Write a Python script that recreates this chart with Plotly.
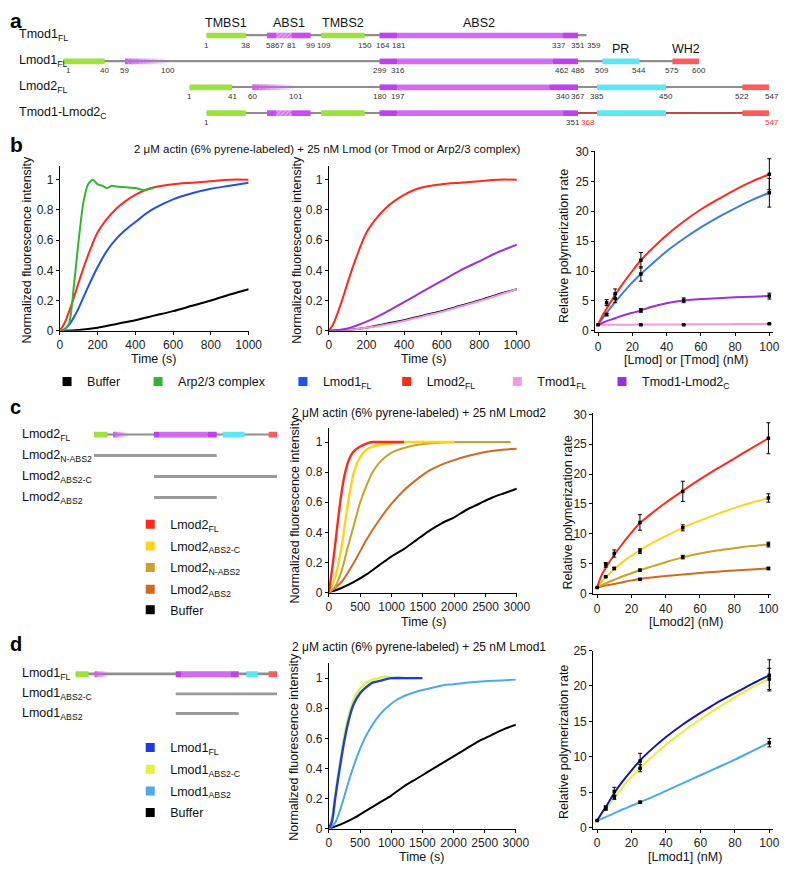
import plotly.graph_objects as go

W, H = 800, 878
FONT = "Liberation Sans, Arial, Helvetica, sans-serif"


def px(v):
    return v / W


def py(v):
    return 1 - v / H


# ======================= DATA =======================
# ---- panel a : domain maps (residue numbers) ----
TMOD1_LEN = 359
LMOD1_LEN = 600
LMOD2_LEN = 547
CHIM_TMOD1_END = 351
CHIM_LMOD2_START = 368
TMOD1_SEGS = [("tmbs", 1, 38), ("abs", 58, 67), ("hatch", 67, 81), ("abs", 81, 99),
              ("tmbs", 109, 150), ("abs2d", 164, 181), ("abs2", 181, 337), ("abs2d", 337, 351)]
LMOD1_SEGS = [("tmbs", 1, 40), ("fade", 59, 100), ("abs2d", 299, 316), ("abs2", 316, 462),
              ("abs2d", 462, 486), ("pr", 509, 544), ("wh2", 575, 600)]
LMOD2_SEGS = [("tmbs", 1, 41), ("fade", 60, 101), ("abs2d", 180, 197), ("abs2", 197, 340),
              ("abs2d", 340, 367), ("pr", 385, 450), ("wh2", 522, 547)]
CHIM_LMOD2_SEGS = [("pr", 385, 450), ("wh2", 522, 547)]
TMOD1_LABELS = [1, 38, 58, 67, 81, 99, 109, 150, 164, 181, 337, 351, 359]
LMOD1_LABELS = [1, 40, 59, 100, 299, 316, 462, 486, 509, 544, 575, 600]
LMOD2_LABELS = [1, 41, 60, 101, 180, 197, 340, 367, 385, 450, 522, 547]
CHIM_TMOD1_LABELS = [1, 351]
CHIM_LMOD2_LABELS = [368, 547]
DOMAIN_NAMES = [("TMBS1", "Tmod1", 1, 38), ("ABS1", "Tmod1", 58, 99), ("TMBS2", "Tmod1", 109, 150),
                ("ABS2", "Tmod1", 164, 351), ("PR", "Lmod1", 509, 544), ("WH2", "Lmod1", 575, 600)]
A_ROW_NAMES = ["Tmod1<sub>FL</sub>", "Lmod1<sub>FL</sub>", "Lmod2<sub>FL</sub>", "Tmod1-Lmod2<sub>C</sub>"]

# ---- panel c / d construct maps ----
C_ROW_NAMES = ["Lmod2<sub>FL</sub>", "Lmod2<sub>N-ABS2</sub>", "Lmod2<sub>ABS2-C</sub>", "Lmod2<sub>ABS2</sub>"]
C_CONSTRUCTS = [(1, 367), (180, 547), (180, 367)]
D_ROW_NAMES = ["Lmod1<sub>FL</sub>", "Lmod1<sub>ABS2-C</sub>", "Lmod1<sub>ABS2</sub>"]
D_CONSTRUCTS = [(299, 600), (299, 486)]

# ---- panel b : time courses (s, normalized intensity) ----
T_B_BUF = [0, 100, 200, 300, 400, 500, 600, 700, 800, 900, 1000]
B_BUFFER = [0, 0.005, 0.02, 0.045, 0.07, 0.10, 0.13, 0.165, 0.20, 0.24, 0.275]
B_TMOD1 = [0, 0.005, 0.02, 0.04, 0.065, 0.095, 0.125, 0.16, 0.195, 0.235, 0.275]
B_CHIM = [0, 0.015, 0.06, 0.12, 0.19, 0.26, 0.33, 0.40, 0.46, 0.52, 0.57]
T_B_ARP = [0, 25, 50, 75, 100, 125, 150, 175, 200, 225, 250, 275, 300, 350, 400, 450, 475, 500]
B_ARP = [0, 0.01, 0.05, 0.3, 0.6, 0.85, 0.97, 1.0, 0.97, 0.96, 0.945, 0.96, 0.955, 0.95, 0.945, 0.93, 0.94, 0.945]
T_B = [0, 25, 50, 75, 100, 150, 200, 250, 300, 350, 400, 450, 500, 600, 700, 800, 900, 1000]
B_LMOD2 = [0, 0.05, 0.13, 0.22, 0.32, 0.5, 0.65, 0.74, 0.81, 0.86, 0.9, 0.93, 0.95, 0.97, 0.98, 0.99, 1.0, 1.0]
B_LMOD1 = [0, 0.01, 0.04, 0.09, 0.15, 0.29, 0.42, 0.53, 0.61, 0.67, 0.72, 0.77, 0.81, 0.87, 0.91, 0.94, 0.96, 0.98]

# ---- panel b : rates vs concentration (nM) ----
FIT_X = [0, 2.5, 5, 10, 15, 20, 25, 30, 40, 50, 60, 70, 80, 90, 100]
B_FIT_LMOD2 = [1, 2.5, 3.7, 6.0, 8.1, 10.0, 11.8, 13.3, 16.0, 18.3, 20.3, 22.0, 23.6, 25.0, 26.2]
B_FIT_LMOD1 = [1, 2.0, 3.0, 4.8, 6.5, 8.1, 9.5, 10.8, 13.3, 15.4, 17.3, 19.0, 20.5, 21.9, 23.1]
B_FIT_CHIM = [1, 1.3, 1.6, 2.1, 2.6, 3.0, 3.4, 3.9, 4.6, 5.05, 5.3, 5.45, 5.6, 5.7, 5.8]
B_FIT_TMOD1 = [1, 1.0, 1.0, 1.01, 1.01, 1.02, 1.03, 1.03, 1.05, 1.06, 1.08, 1.09, 1.11, 1.13, 1.15]
B_PTS_LMOD2 = ([0, 5, 10, 25, 100], [1, 4.7, 6.2, 11.8, 26.2], [0, 0.5, 0.8, 1.3, 2.6])
B_PTS_LMOD1 = ([5, 10, 25, 100], [2.7, 5.4, 9.5, 23.1], [0.2, 0.7, 1.2, 2.4])
B_PTS_CHIM = ([25, 50, 100], [3.4, 5.1, 5.8], [0.3, 0.4, 0.5])
B_PTS_TMOD1 = ([25, 50, 100], [1.0, 1.0, 1.15], [0.05, 0.05, 0.05])

# ---- panel c : time courses ----
T_C_RED = [0, 50, 100, 150, 200, 250, 300, 350, 400, 500, 600, 700, 800, 1000, 1200]
C_FL = [0, 0.15, 0.32, 0.5, 0.66, 0.78, 0.86, 0.91, 0.94, 0.97, 0.99, 1.0, 1.0, 1.0, 1.0]
T_C_YEL = [0, 100, 200, 300, 400, 500, 600, 700, 800, 1000, 1200, 1500, 2000]
C_ABS2C = [0, 0.1, 0.3, 0.58, 0.8, 0.9, 0.95, 0.97, 0.98, 0.99, 1.0, 1.0, 1.0]
T_C_OLV = [0, 100, 200, 300, 400, 500, 600, 700, 800, 900, 1000, 1200, 1400, 1600, 2000, 2500, 2900]
C_NABS2 = [0, 0.04, 0.14, 0.3, 0.45, 0.6, 0.71, 0.8, 0.86, 0.9, 0.93, 0.96, 0.98, 0.99, 1.0, 1.0, 1.0]
T_LONG = [0, 200, 400, 600, 800, 1000, 1200, 1400, 1600, 1800, 2000, 2200, 2400, 2600, 2800, 3000]
C_ABS2 = [0, 0.07, 0.2, 0.35, 0.48, 0.59, 0.68, 0.75, 0.81, 0.85, 0.88, 0.905, 0.925, 0.94, 0.95, 0.955]
C_BUFFER = [0, 0.03, 0.07, 0.12, 0.18, 0.24, 0.29, 0.35, 0.41, 0.46, 0.5, 0.55, 0.59, 0.63, 0.66, 0.69]

# ---- panel c : rates ----
C_FIT_FL = [1, 3.0, 4.3, 6.5, 8.4, 10.2, 11.8, 13.0, 15.2, 17.2, 19.1, 20.9, 22.6, 24.3, 26.0]
C_FIT_ABS2C = [1, 1.9, 2.7, 4.1, 5.3, 6.3, 7.2, 8.1, 9.6, 11.0, 12.2, 13.3, 14.3, 15.2, 16.0]
C_FIT_NABS2 = [1, 1.35, 1.7, 2.3, 2.9, 3.4, 3.9, 4.35, 5.25, 6.05, 6.7, 7.2, 7.6, 7.95, 8.2]
C_FIT_ABS2 = [1, 1.17, 1.33, 1.6, 1.9, 2.2, 2.45, 2.65, 2.95, 3.2, 3.45, 3.65, 3.85, 4.03, 4.2]
C_PTS_FL = ([0, 5, 10, 25, 50, 100], [1, 4.8, 6.7, 11.9, 17.1, 26.0], [0, 0.4, 0.6, 1.3, 1.7, 2.6])
C_PTS_ABS2C = ([5, 10, 25, 50, 100], [2.8, 4.2, 7.1, 11.0, 16.0], [0.1, 0.2, 0.4, 0.5, 0.7])
C_PTS_NABS2 = ([25, 50, 100], [3.9, 6.1, 8.2], [0.2, 0.3, 0.4])
C_PTS_ABS2 = ([25, 100], [2.4, 4.2], [0.1, 0.2])

# ---- panel d : time courses ----
T_D_FL = [0, 50, 100, 150, 200, 250, 300, 350, 400, 500, 600, 700, 800, 1000, 1200, 1500]
D_FL = [0, 0.05, 0.2, 0.34, 0.47, 0.59, 0.69, 0.77, 0.83, 0.9, 0.94, 0.97, 0.98, 1.0, 1.0, 1.0]
T_D_C = [0, 50, 100, 150, 200, 250, 300, 400, 500, 600, 700, 800, 900, 1000, 1200, 1400]
D_ABS2C = [0, 0.07, 0.22, 0.36, 0.5, 0.62, 0.72, 0.86, 0.93, 0.97, 0.99, 1.0, 1.01, 1.0, 1.0, 1.0]
T_D_ABS2 = [0, 100, 200, 300, 400, 500, 600, 800, 1000, 1200, 1400, 1600, 1800, 2000, 2200, 2500, 3000]
D_ABS2 = [0, 0.04, 0.15, 0.29, 0.42, 0.53, 0.62, 0.75, 0.83, 0.88, 0.91, 0.93, 0.95, 0.96, 0.97, 0.98, 0.99]
D_BUFFER = [0, 0.03, 0.07, 0.12, 0.17, 0.22, 0.28, 0.33, 0.38, 0.43, 0.48, 0.53, 0.58, 0.62, 0.66, 0.69]

# ---- panel d : rates ----
D_FIT_FL = [1, 2.0, 2.9, 4.9, 6.6, 8.1, 9.5, 10.7, 12.8, 14.6, 16.2, 17.7, 19.0, 20.3, 21.5]
D_FIT_ABS2C = [1, 1.8, 2.6, 4.2, 5.8, 7.2, 8.4, 9.6, 11.7, 13.6, 15.3, 16.9, 18.4, 19.8, 21.0]
D_FIT_ABS2 = [1, 1.25, 1.5, 2.05, 2.6, 3.1, 3.6, 4.1, 5.2, 6.3, 7.4, 8.5, 9.6, 10.8, 12.0]
D_PTS_FL = ([0, 5, 10, 25, 100], [1, 2.8, 5.1, 9.4, 21.5], [0, 0.3, 0.6, 1.1, 2.2])
D_PTS_ABS2C = ([5, 10, 25, 100], [2.7, 4.3, 8.4, 21.0], [0.2, 0.3, 0.5, 1.5])
D_PTS_ABS2 = ([25, 100], [3.6, 12.0], [0.15, 0.6])

# ---- tick labels ----
TIME_TICKS_B = [0, 200, 400, 600, 800, 1000]
TIME_TICKS_CD = [0, 500, 1000, 1500, 2000, 2500, 3000]
FLUO_TICKS = [0, 0.2, 0.4, 0.6, 0.8, 1]
FLUO_TICKTEXT = ["0", "0.2", "0.4", "0.6", "0.8", "1"]
CONC_TICKS = [0, 20, 40, 60, 80, 100]
RATE_TICKS_30 = [0, 5, 10, 15, 20, 25, 30]
RATE_TICKS_25 = [0, 5, 10, 15, 20, 25]

# ======================= STYLE =======================
C_BUF = "#000000"
C_ARP = "#35B335"
C_L1 = "#2150E8"
C_L1_FIT = "#3A7EE0"
C_L2 = "#FF2A1A"
C_T1 = "#F29ADF"
C_CH = "#9B30E0"
C_YEL = "#FFD31A"
C_OLV = "#C9A227"
C_ORG = "#D2691E"
C_D_FL = "#1A3CE6"
C_D_FL_FIT = "#1515B4"
C_D_YG = "#E2F240"
C_D_LB = "#4CA8F0"

DOM_COLORS = {"tmbs": "#9EE23E", "abs": "#C84CF0", "abs2d": "#C040EE", "abs2": "#D36AF3",
              "pr": "#5DE7F3", "wh2": "#FF5B5B", "hatch": "#D470F3"}
BACKBONE = "#8E8E8E"
CHIM_BACKBONE = "#C24848"
CONSTRUCT = "#9A9A9A"

ALIGN = {"Tmod1": 0, "Lmod1": -135, "Lmod2": -16}
TMOD1_NUDGE = {58: 3, 67: 3, 109: 3, 164: 3, 181: 1, 337: -4, 359: 8}
LMOD1_NUDGE = {1: 5, 462: 10}
LMOD2_NUDGE = {340: 14, 547: 3}
CHIM_NUDGE_T = {351: -5}
CHIM_NUDGE_L = {368: 9, 547: 3}

fig = go.Figure()
ann = []
layout = {}


def text(x, y, s, size=12, xref="paper", yref="paper", xanchor="center", yanchor="middle",
         color="#111", angle=0, xshift=0, yshift=0):
    ann.append(dict(x=x, y=y, xref=xref, yref=yref, text=s, showarrow=False, xanchor=xanchor,
                    yanchor=yanchor, textangle=angle, xshift=xshift, yshift=yshift,
                    font=dict(size=size, color=color, family=FONT)))


def hbar(xa, ya, s, e, row, color, width, pattern=None):
    m = dict(color=color, line=dict(width=0))
    if pattern:
        m["pattern"] = pattern
    fig.add_trace(go.Bar(x=[e - s], base=[s], y=[row], orientation="h", width=width, marker=m,
                         xaxis=xa, yaxis=ya, showlegend=False, hoverinfo="skip"))


def draw_segs(xa, ya, row, segs, off, bw):
    for kind, s, e in segs:
        s0, e0 = s + off, e + off
        if kind == "fade":
            n = 12
            for k in range(n):
                a = 1 - 0.95 * k / (n - 1)
                hbar(xa, ya, s0 + (e0 - s0) * k / n, s0 + (e0 - s0) * (k + 1) / n, row,
                     f"rgba(208,95,240,{a:.2f})", bw)
        elif kind == "hatch":
            hbar(xa, ya, s0, e0, row, DOM_COLORS["hatch"], bw,
                 pattern=dict(shape="/", fgcolor="#F6DDFB", size=3, solidity=0.45))
        else:
            hbar(xa, ya, s0, e0, row, DOM_COLORS[kind], bw)


# ---------------- panel a ----------------
BW_A = 0.22
BB_A = 0.06
rows_a = [("Tmod1", TMOD1_LEN), ("Lmod1", LMOD1_LEN), ("Lmod2", LMOD2_LEN)]
for r, (nm, ln) in enumerate(rows_a):
    off = ALIGN[nm]
    hbar("x", "y", 1 + off, ln + off, r, BACKBONE, BB_A)
hbar("x", "y", 1, CHIM_TMOD1_END, 3, BACKBONE, BB_A)
hbar("x", "y", CHIM_TMOD1_END, LMOD2_LEN + ALIGN["Lmod2"], 3, CHIM_BACKBONE, BB_A)
draw_segs("x", "y", 0, TMOD1_SEGS, ALIGN["Tmod1"], BW_A)
draw_segs("x", "y", 1, LMOD1_SEGS, ALIGN["Lmod1"], BW_A)
draw_segs("x", "y", 2, LMOD2_SEGS, ALIGN["Lmod2"], BW_A)
draw_segs("x", "y", 3, TMOD1_SEGS, ALIGN["Tmod1"], BW_A)
draw_segs("x", "y", 3, CHIM_LMOD2_SEGS, ALIGN["Lmod2"], BW_A)

LBL_DY = 0.37
for labels, nm, row, nudge, col in [(TMOD1_LABELS, "Tmod1", 0, TMOD1_NUDGE, "#333"),
                                    (LMOD1_LABELS, "Lmod1", 1, LMOD1_NUDGE, "#333"),
                                    (LMOD2_LABELS, "Lmod2", 2, LMOD2_NUDGE, "#333"),
                                    (CHIM_TMOD1_LABELS, "Tmod1", 3, CHIM_NUDGE_T, "#333"),
                                    (CHIM_LMOD2_LABELS, "Lmod2", 3, CHIM_NUDGE_L, "#FF3333")]:
    for v in labels:
        text(v + ALIGN[nm], row + LBL_DY, str(v), size=8, xref="x", yref="y", color=col,
             xshift=nudge.get(v, 0))
for name, nm, s, e in DOMAIN_NAMES:
    row = 0 if nm == "Tmod1" else 1
    text((s + e) / 2 + ALIGN[nm], row - 0.48, name, size=12.5, xref="x", yref="y", color="#111")
for r, nm in enumerate(A_ROW_NAMES):
    text(px(14), r, nm, size=12.5, yref="y", xanchor="left")

# ---------------- panel c / d maps ----------------
BW_C = 0.28
hbar("x5", "y5", 1, LMOD2_LEN, 0, BACKBONE, 0.1)
draw_segs("x5", "y5", 0, LMOD2_SEGS, 0, BW_C)
for i, (s, e) in enumerate(C_CONSTRUCTS):
    hbar("x5", "y5", s, e, i + 1, CONSTRUCT, 0.14)
for r, nm in enumerate(C_ROW_NAMES):
    text(px(17), r, nm, size=12.5, yref="y5", xanchor="left")

BW_D = 0.3
hbar("x8", "y8", 1, LMOD1_LEN, 0, BACKBONE, 0.1)
draw_segs("x8", "y8", 0, LMOD1_SEGS, 0, BW_D)
for i, (s, e) in enumerate(D_CONSTRUCTS):
    hbar("x8", "y8", s, e, i + 1, CONSTRUCT, 0.15)
for r, nm in enumerate(D_ROW_NAMES):
    text(px(17), r, nm, size=12.5, yref="y8", xanchor="left")


# ---------------- curves ----------------
def tc(xa, ya, t, v, color, width=2.0, smooth=0.8):
    fig.add_trace(go.Scatter(x=t, y=v, mode="lines",
                             line=dict(color=color, width=width, shape="spline", smoothing=smooth),
                             xaxis=xa, yaxis=ya, showlegend=False, hoverinfo="skip"))


def pts(xa, ya, data):
    x, y, err = data
    fig.add_trace(go.Scatter(x=x, y=y, mode="markers",
                             marker=dict(symbol="square", size=3.5, color="black"),
                             error_y=dict(type="data", array=err, color="black", thickness=1, width=2),
                             xaxis=xa, yaxis=ya, showlegend=False, hoverinfo="skip"))


# b1
tc("x2", "y2", T_B_BUF, B_BUFFER, C_BUF)
tc("x2", "y2", T_B, B_LMOD1, C_L1)
tc("x2", "y2", T_B, B_LMOD2, C_L2)
tc("x2", "y2", T_B_ARP, B_ARP, C_ARP, smooth=0.6)
# b2
tc("x3", "y3", T_B_BUF, B_BUFFER, C_BUF)
tc("x3", "y3", T_B_BUF, B_TMOD1, C_T1)
tc("x3", "y3", T_B_BUF, B_CHIM, C_CH)
tc("x3", "y3", T_B, B_LMOD2, C_L2)
# b3
tc("x4", "y4", FIT_X, B_FIT_TMOD1, C_T1)
tc("x4", "y4", FIT_X, B_FIT_CHIM, C_CH)
tc("x4", "y4", FIT_X, B_FIT_LMOD1, C_L1_FIT)
tc("x4", "y4", FIT_X, B_FIT_LMOD2, C_L2)
for d in [B_PTS_TMOD1, B_PTS_CHIM, B_PTS_LMOD1, B_PTS_LMOD2]:
    pts("x4", "y4", d)
# c2
tc("x6", "y6", T_LONG, C_BUFFER, C_BUF)
tc("x6", "y6", T_LONG, C_ABS2, C_ORG)
tc("x6", "y6", T_C_OLV, C_NABS2, C_OLV)
tc("x6", "y6", T_C_YEL, C_ABS2C, C_YEL, width=2.4)
tc("x6", "y6", T_C_RED, C_FL, C_L2, width=2.4)
# c3
tc("x7", "y7", FIT_X, C_FIT_ABS2, C_ORG)
tc("x7", "y7", FIT_X, C_FIT_NABS2, C_OLV)
tc("x7", "y7", FIT_X, C_FIT_ABS2C, C_YEL)
tc("x7", "y7", FIT_X, C_FIT_FL, C_L2)
for d in [C_PTS_ABS2, C_PTS_NABS2, C_PTS_ABS2C, C_PTS_FL]:
    pts("x7", "y7", d)
# d2
tc("x9", "y9", T_LONG, D_BUFFER, C_BUF)
tc("x9", "y9", T_D_ABS2, D_ABS2, C_D_LB)
tc("x9", "y9", T_D_C, D_ABS2C, C_D_YG, width=2.6)
tc("x9", "y9", T_D_FL, D_FL, C_D_FL, width=2.4)
# d3
tc("x10", "y10", FIT_X, D_FIT_ABS2, C_D_LB)
tc("x10", "y10", FIT_X, D_FIT_ABS2C, C_D_YG)
tc("x10", "y10", FIT_X, D_FIT_FL, C_D_FL_FIT)
for d in [D_PTS_ABS2, D_PTS_ABS2C, D_PTS_FL]:
    pts("x10", "y10", d)

# ---------------- legends ----------------
LEG_B = [("Buffer", C_BUF), ("Arp2/3 complex", C_ARP), ("Lmod1<sub>FL</sub>", C_L1),
         ("Lmod2<sub>FL</sub>", C_L2), ("Tmod1<sub>FL</sub>", C_T1), ("Tmod1-Lmod2<sub>C</sub>", C_CH)]
LEG_C = [("Lmod2<sub>FL</sub>", C_L2), ("Lmod2<sub>ABS2-C</sub>", C_YEL), ("Lmod2<sub>N-ABS2</sub>", C_OLV),
         ("Lmod2<sub>ABS2</sub>", C_ORG), ("Buffer", C_BUF)]
LEG_D = [("Lmod1<sub>FL</sub>", C_D_FL), ("Lmod1<sub>ABS2-C</sub>", C_D_YG), ("Lmod1<sub>ABS2</sub>", C_D_LB),
         ("Buffer", C_BUF)]
LEG_B_POS = [(72, 381), (165, 381), (313, 381), (419, 381), (532, 381), (639, 381)]
LEG_C_POS = [(157, 526), (157, 548), (157, 570), (157, 592), (157, 613)]
LEG_D_POS = [(157, 753), (157, 775), (157, 797), (157, 819)]
specs = list(zip(LEG_B, LEG_B_POS)) + list(zip(LEG_C, LEG_C_POS)) + list(zip(LEG_D, LEG_D_POS))
for k, ((name, color), (sx, sy)) in enumerate(specs):
    lname = "legend" if k == 0 else f"legend{k + 1}"
    fig.add_trace(go.Scatter(x=[None], y=[None], mode="markers",
                             marker=dict(symbol="square", size=9, color=color),
                             name=name, legend=lname, showlegend=True, xaxis="x", yaxis="y",
                             hoverinfo="skip"))
    layout[lname] = dict(x=px(sx - 27), y=py(sy), xanchor="left", yanchor="middle",
                         bgcolor="rgba(0,0,0,0)", borderwidth=0, itemwidth=30,
                         font=dict(size=12.5, family=FONT, color="#111"))


# ---------------- axes ----------------
def ax_key(c, n):
    return c + "axis" if n == 1 else f"{c}axis{n}"


def diag_axes(n, x0, x1, ytop, ybot, xr, yr):
    layout[ax_key("x", n)] = dict(domain=[px(x0), px(x1)], range=xr, visible=False,
                                  anchor="y" if n == 1 else f"y{n}", fixedrange=True)
    layout[ax_key("y", n)] = dict(domain=[py(ybot), py(ytop)], range=yr, visible=False,
                                  anchor="x" if n == 1 else f"x{n}", fixedrange=True)


TICKFONT = dict(size=12, family=FONT, color="#222")
AXSTYLE = dict(showline=True, linecolor="black", linewidth=1, ticks="outside", ticklen=3,
               tickwidth=1, tickcolor="black", showgrid=False, zeroline=False, tickfont=TICKFONT,
               fixedrange=True)


def plot_axes(n, x0, x1, ytop, ybot, xr, yr, xt, yt, ytt=None):
    layout[ax_key("x", n)] = dict(domain=[px(x0), px(x1)], range=xr, anchor=f"y{n}", tickvals=xt, **AXSTYLE)
    yd = dict(domain=[py(ybot), py(ytop)], range=yr, anchor=f"x{n}", tickvals=yt, **AXSTYLE)
    if ytt:
        yd["ticktext"] = ytt
    layout[ax_key("y", n)] = yd


# panel a diagram: residue->pixel 1.084 px/res, residue 1 of Tmod1 at x=208
diag_axes(1, 0, 800, 0, 130, [-190.9, 547.1], [3.84, -1.10])
plot_axes(2, 58, 251, 162, 329, [0, 1000], [0, 1.088], TIME_TICKS_B, FLUO_TICKS, FLUO_TICKTEXT)
plot_axes(3, 333, 525, 162, 329, [0, 1000], [0, 1.088], TIME_TICKS_B, FLUO_TICKS, FLUO_TICKTEXT)
plot_axes(4, 605, 787, 146, 330.5, [-1.7, 102.3], [-0.25, 30.15], CONC_TICKS, RATE_TICKS_30)
diag_axes(5, 93, 280, 420, 510, [1, 547], [3.54, -0.68])
plot_axes(6, 333, 525, 428, 595, [0, 3000], [0, 1.092], TIME_TICKS_CD, FLUO_TICKS, FLUO_TICKTEXT)
plot_axes(7, 603, 785, 413, 597, [-2.3, 101.7], [-0.16, 30.16], CONC_TICKS, RATE_TICKS_30)
diag_axes(8, 74, 280, 665, 730, [1, 600], [2.6, -0.65])
plot_axes(9, 333, 524, 667, 835, [0, 3000], [0, 1.098], TIME_TICKS_CD, FLUO_TICKS, FLUO_TICKTEXT)
plot_axes(10, 603, 787, 654, 835, [-2.27, 102.3], [-0.14, 25.0], CONC_TICKS, RATE_TICKS_25)

# ---------------- text ----------------
for lt, x, y, s in [("a", 13, 14, 21), ("b", 14, 140, 21), ("c", 13, 406, 20), ("d", 13, 647, 20)]:
    text(px(x), py(y), f"<b>{lt}</b>", size=s, color="#000")
text(px(332), py(144), "2 μM actin (6% pyrene-labeled) + 25 nM Lmod (or Tmod or Arp2/3 complex)", size=11.5)
text(px(425), py(413), "2 μM actin (6% pyrene-labeled) + 25 nM Lmod2", size=12)
text(px(425), py(650), "2 μM actin (6% pyrene-labeled) + 25 nM Lmod1", size=12)

YT = "Normalized fluorescence intensity"
RT = "Relative polymerization rate"
for x, y, s in [(25, 246, YT), (300, 247, YT), (573, 243, RT), (298, 511, YT), (577, 514, RT),
                (297, 752, YT), (573, 747, RT)]:
    text(px(x), py(y), s, size=12.5, angle=-90)
for x, y, s in [(154, 358, "Time (s)"), (430, 358, "Time (s)"), (698, 359, "[Lmod] or [Tmod] (nM)"),
                (430, 625, "Time (s)"), (698, 625, "[Lmod2] (nM)"), (428, 864, "Time (s)"),
                (697, 864, "[Lmod1] (nM)")]:
    text(px(x), py(y), s, size=12.5)

layout.update(dict(width=W, height=H, margin=dict(l=0, r=0, t=0, b=0), paper_bgcolor="white",
                   plot_bgcolor="white", barmode="overlay", annotations=ann, showlegend=True,
                   font=dict(family=FONT)))
fig.update_layout(**layout)
fig.write_html("out.html")
